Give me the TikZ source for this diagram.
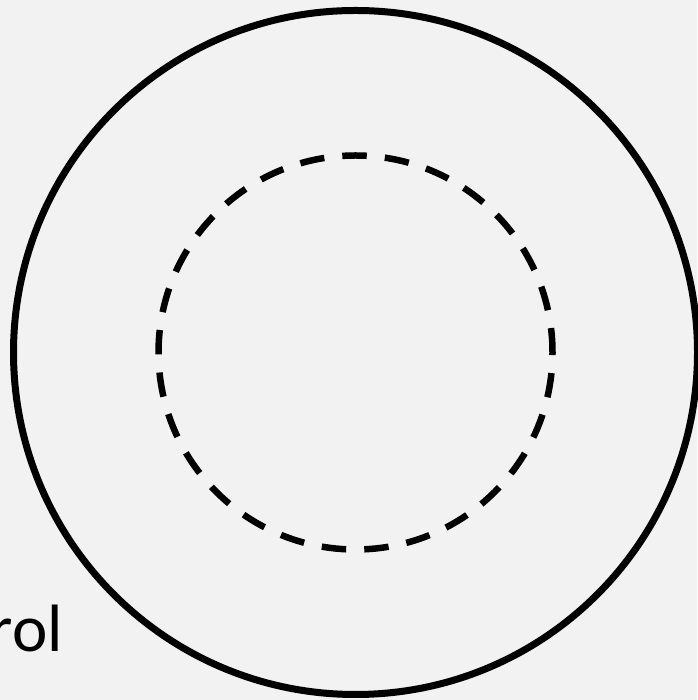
\documentclass[tikz,border=0pt]{standalone}
\usepackage{fontspec}
\setmainfont{Carlito}
\begin{document}
\begin{tikzpicture}[x=1pt,y=1pt]
	
	% ---- Adjustable colors ----
	\definecolor{paperGrey}{HTML}{F2F2F2}
	\def\ringColor{black}
	
	% ---- Background and page size ----
	\fill[paperGrey] (0,0) rectangle (697,700);
	\useasboundingbox (0,0) rectangle (697,700);
	
	% ---- Center of both rings ----
	\coordinate (center) at (355.5,347.5);
	
	% ---- Outer ring (solid) ----
	\draw[\ringColor, line width=7] (center) circle (342);
	
	% ---- Inner ring (dashed) ----
	\draw[\ringColor, line width=6.5, dash pattern=on 24.5pt off 18.1pt] (center) circle (197);
	
	% ---- Label, cut off at the left border ----
	\node[anchor=base east, inner sep=0, font=\fontsize{67}{80}\selectfont] (ctrlLabel) at (63,48) {rol};
	
\end{tikzpicture}
\end{document}
